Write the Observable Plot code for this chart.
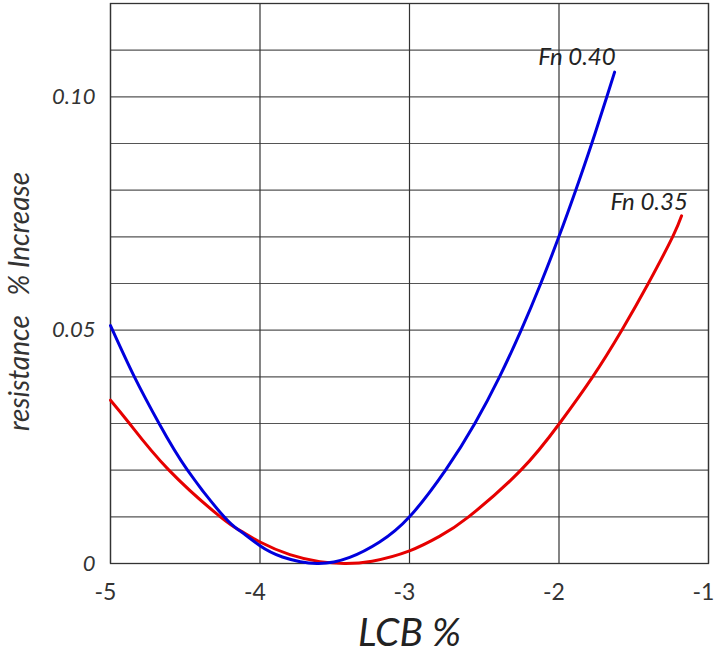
<!DOCTYPE html>
<html>
<head>
<meta charset="utf-8">
<script src="https://cdn.jsdelivr.net/npm/d3@7"></script>
<script src="https://cdn.jsdelivr.net/npm/@observablehq/plot@0.6"></script>
<style>
  html, body { margin: 0; padding: 0; background: #fff; }
  #chart { width: 720px; height: 652px; }
</style>
</head>
<body>
<div id="chart"></div>
<script>
// Fn 0.40 (blue)
const lcbFn040 = [-5.0, -4.84, -4.675, -4.485, -4.24, -4.13, -4.0, -3.85, -3.62, -3.4, -3.2, -3.0, -2.759, -2.563, -2.398, -2.253, -2.122, -2.001, -1.888, -1.781, -1.680, -1.628];
const resFn040 = [0.0510, 0.040, 0.030, 0.020, 0.010, 0.0069, 0.0038, 0.0014, 0.0, 0.0013, 0.0046, 0.010, 0.020, 0.030, 0.040, 0.050, 0.060, 0.070, 0.080, 0.090, 0.100, 0.1053];
// Fn 0.35 (red)
const lcbFn035 = [-5.0, -4.873, -4.609, -4.265, -4.13, -4.0, -3.8, -3.6, -3.435, -3.25, -3.0, -2.8, -2.605, -2.255, -1.997, -1.775, -1.58, -1.403, -1.24, -1.18];
const resFn035 = [0.0350, 0.030, 0.020, 0.010, 0.0070, 0.0046, 0.0019, 0.0004, 0.0, 0.0005, 0.0027, 0.0058, 0.010, 0.020, 0.030, 0.040, 0.050, 0.060, 0.070, 0.0745];

// Series labels
const seriesLabels = ["Fn 0.40", "Fn 0.35"];
const seriesLabelLcb = [-1.88, -1.397];
const seriesLabelRes = [0.1085, 0.0774];

// Axes
const xTickValues = [-5, -4, -3, -2, -1];
const xTickLabels = ["-5", "-4", "-3", "-2", "-1"];
const yGridValues = [0, 0.01, 0.02, 0.03, 0.04, 0.05, 0.06, 0.07, 0.08, 0.09, 0.10, 0.11, 0.12];
const yTickValues = [0, 0.05, 0.10];
const yTickLabels = ["0", "0.05", "0.10"];
const xTitle = "LCB %";
const yTitle = "resistance\u00a0\u00a0\u00a0% Increase";

const blue = lcbFn040.map((x, i) => ({lcb: x, res: resFn040[i]}));
const red = lcbFn035.map((x, i) => ({lcb: x, res: resFn035[i]}));
const labels = seriesLabels.map((t, i) => ({t, lcb: seriesLabelLcb[i], res: seriesLabelRes[i]}));

const font = "Lato, 'Open Sans', sans-serif";

const chart = Plot.plot({
  width: 720,
  height: 652,
  marginLeft: 110,
  marginRight: 12,
  marginTop: 3,
  marginBottom: 89,
  style: {fontFamily: font, background: "#fff", color: "#333"},
  x: {domain: [-5, -1]},
  y: {domain: [0, 0.12]},
  marks: [
    Plot.gridY(yGridValues, {stroke: "#555", strokeOpacity: 1, strokeWidth: 1.2}),
    Plot.gridX(xTickValues, {stroke: "#333", strokeOpacity: 1, strokeWidth: 1.2}),
    Plot.frame({stroke: "#333", strokeWidth: 1.3}),
    Plot.axisX(xTickValues, {
      tickSize: 0, tickPadding: 20, fontSize: 23, dx: -5, label: null,
      tickFormat: d => xTickLabels[xTickValues.indexOf(d)], fill: "#333"
    }),
    Plot.axisY(yTickValues, {
      tickSize: 0, tickPadding: 15, fontSize: 22, fontStyle: "italic", label: null,
      tickFormat: d => yTickLabels[yTickValues.indexOf(d)], fill: "#333"
    }),
    Plot.line(red, {x: "lcb", y: "res", stroke: "#e60000", strokeWidth: 3, curve: "natural"}),
    Plot.line(blue, {x: "lcb", y: "res", stroke: "#0000dd", strokeWidth: 3, curve: "natural"}),
    Plot.text(labels, {x: "lcb", y: "res", text: "t", fontSize: 24, fontStyle: "italic", fill: "#222"}),
    Plot.text([xTitle], {frameAnchor: "bottom", textAnchor: "middle", lineAnchor: "bottom", dy: 82, fontSize: 39, fontStyle: "italic", fill: "#222"}),
    Plot.text([yTitle], {frameAnchor: "left", textAnchor: "middle", lineAnchor: "middle", dx: -90, dy: 18, rotate: -90, fontSize: 28, fontStyle: "italic", fill: "#333"})
  ]
});
document.getElementById("chart").appendChild(chart);
</script>
</body>
</html>
